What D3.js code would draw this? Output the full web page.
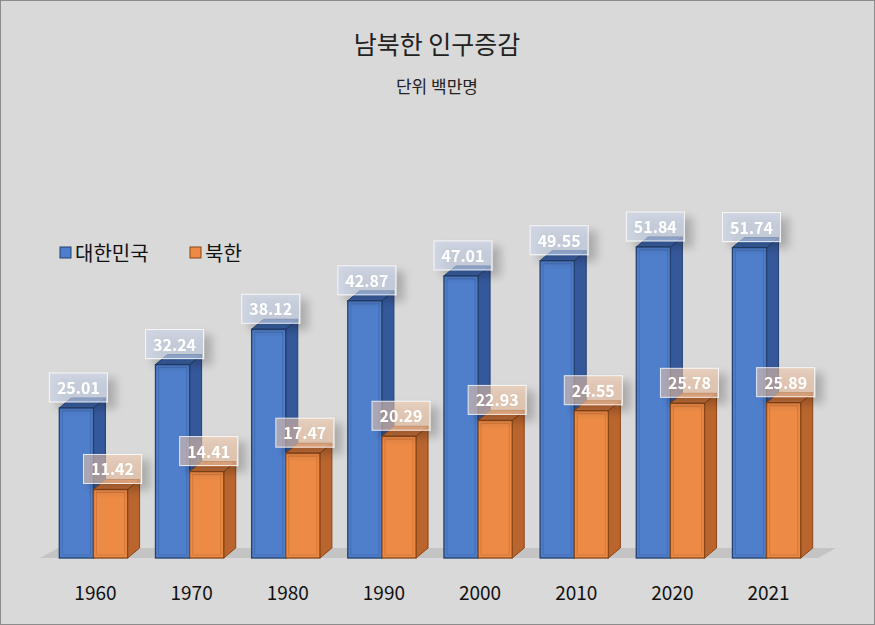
<!DOCTYPE html>
<html><head><meta charset="utf-8">
<script src="https://cdn.jsdelivr.net/npm/d3@7"></script>
<style>body{margin:0;background:#fff}svg{display:block}</style></head>
<body><svg id="c" width="875" height="625"></svg>
<script>
const years = ["1960","1970","1980","1990","2000","2010","2020","2021"];
const south = [25.01,32.24,38.12,42.87,47.01,49.55,51.84,51.74];
const north = [11.42,14.41,17.47,20.29,22.93,24.55,25.78,25.89];
const seriesNames = ["대한민국","북한"];
const colors = [{front:"#4f7ecb",side:"#35589a",top:"#3b63a8",edge:"#23406f"},
                {front:"#ec8a46",side:"#b9652d",top:"#c6703a",edge:"#8a4617"}];
const font = "'Noto Sans CJK KR','Noto Sans',sans-serif";
const svg = d3.select("#c");
svg.append("rect").attr("x",0.5).attr("y",0.5).attr("width",874).attr("height",624).attr("fill","#d9d9d9").attr("stroke","#8c8c8c");
const defs = svg.append("defs");
const f = defs.append("filter").attr("id","sh").attr("x","-30%").attr("y","-30%").attr("width","180%").attr("height","180%");
f.append("feGaussianBlur").attr("in","SourceAlpha").attr("stdDeviation",4);
f.append("feOffset").attr("dx",8).attr("dy",6).attr("result","b");
f.append("feComponentTransfer").append("feFuncA").attr("type","linear").attr("slope",0.35);
const m=f.append("feMerge"); m.append("feMergeNode"); m.append("feMergeNode").attr("in","SourceGraphic");

svg.append("text").attr("x",437).attr("y",54).attr("text-anchor","middle").attr("font-family",font).attr("font-size",25).attr("fill","#222").text("남북한 인구증감");
svg.append("text").attr("x",437).attr("y",93).attr("text-anchor","middle").attr("font-family",font).attr("font-size",17).attr("fill","#222").text("단위 백만명");

const x = d3.scaleBand().domain(years).range([42,818]).paddingInner(0.29).paddingOuter(0.18);
const y = d3.scaleLinear().domain([0,60]).range([558,198]);
const dx=12, dy=10;
// floor
svg.append("path").attr("d",`M40,558 L818,558 L836,548 L58,548 Z`).attr("fill","#c4c4c4");

const g = svg.append("g");
years.forEach((yr,i)=>{
  const bw = x.bandwidth()/2;
  [south[i],north[i]].forEach((v,s)=>{
    const x0 = x(yr)+s*bw, x1=x0+bw, yt=y(v), yb=y(0), c=colors[s];
    const bg=g.append("g");
    bg.append("path").attr("d",`M${x1},${yb} L${x1+dx},${yb-dy} L${x1+dx},${yt-dy} L${x1},${yt} Z`).attr("fill",c.side).attr("stroke",c.edge).attr("stroke-width",1);
    bg.append("path").attr("d",`M${x0},${yt} L${x0+dx},${yt-dy} L${x1+dx},${yt-dy} L${x1},${yt} Z`).attr("fill",c.top).attr("stroke",c.edge);
    bg.append("rect").attr("x",x0).attr("y",yt).attr("width",bw).attr("height",yb-yt).attr("fill",c.front).attr("stroke",c.edge).attr("stroke-width",1.3);
    bg.append("rect").attr("x",x0+3).attr("y",yt+3).attr("width",bw-6).attr("height",yb-yt-6).attr("fill","none").attr("stroke",c.edge).attr("stroke-opacity",0.25);
  });
});
years.forEach((yr,i)=>{
  const bw = x.bandwidth()/2;
  [south[i],north[i]].forEach((v,s)=>{
    const cx = x(yr)+s*bw+bw/2+2, yt=y(v);
    const lg=g.append("g").attr("filter","url(#sh)");
    lg.append("rect").attr("x",cx-29).attr("y",yt-35).attr("width",58).attr("height",29)
      .attr("fill",s?"#f3c9a8":"#c6d3ea").attr("fill-opacity",0.55).attr("stroke","#fff").attr("stroke-opacity",0.8);
    lg.append("text").attr("x",cx).attr("y",yt-14).attr("text-anchor","middle").attr("font-family",font)
      .attr("font-size",16).attr("font-weight","bold").attr("fill","#fff").text(v.toFixed(2));
  });
});
svg.append("g").selectAll("text").data(years).join("text").attr("x",d=>x(d)+x.bandwidth()/2+2).attr("y",600)
  .attr("text-anchor","middle").attr("font-family",font).attr("font-size",19).attr("fill","#111").text(d=>d);
// legend
const leg=[{x:60,t:seriesNames[0]},{x:190,t:seriesNames[1]}];
leg.forEach((l,i)=>{
  svg.append("rect").attr("x",l.x).attr("y",247).attr("width",11).attr("height",11).attr("fill",colors[i].front).attr("stroke",colors[i].edge);
  svg.append("text").attr("x",l.x+15).attr("y",261).attr("font-family",font).attr("font-size",20).attr("fill","#111").text(l.t);
});
</script></body></html>
